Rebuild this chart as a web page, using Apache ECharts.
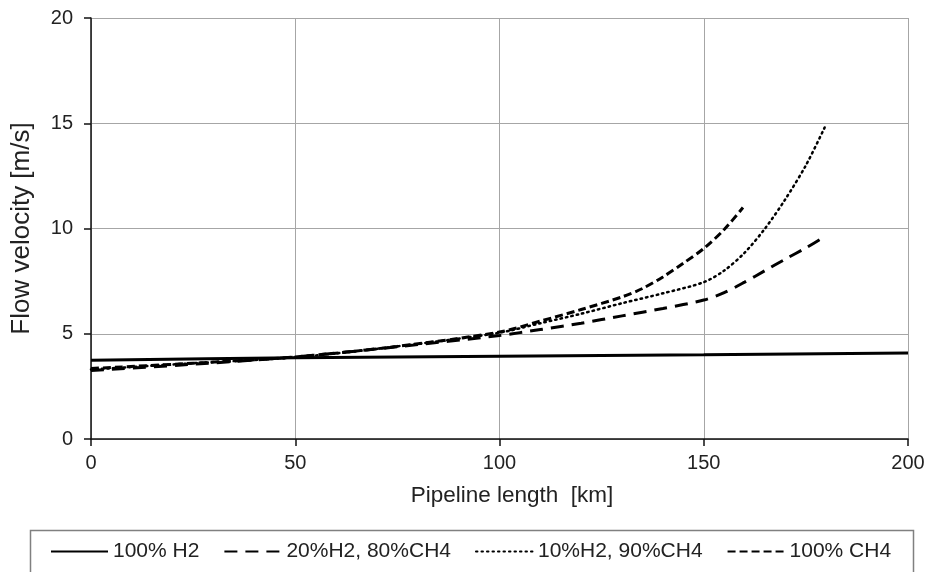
<!DOCTYPE html>
<html>
<head>
<meta charset="utf-8">
<script src="https://cdn.jsdelivr.net/npm/echarts@6/dist/echarts.min.js"></script>
<style>html,body{margin:0;padding:0;background:#fff}#c{width:928px;height:572px}</style>
</head>
<body>
<div id="c"></div>
<script>
const seriesNames = ['100% H2', '20%H2, 80%CH4', '10%H2, 90%CH4', '100% CH4'];
const xTitle = 'Pipeline length  [km]';
const yTitle = 'Flow velocity [m/s]';

const h2X = [0, 50, 100, 150, 200];
const h2Y = [3.74, 3.86, 3.93, 4.0, 4.08];

const mix20X = [0, 25, 50, 75, 100, 110, 120, 130, 140, 150, 155, 160, 165, 170, 175, 179.5];
const mix20Y = [3.25, 3.55, 3.9, 4.38, 4.92, 5.2, 5.5, 5.85, 6.2, 6.6, 6.95, 7.45, 8.0, 8.55, 9.08, 9.6];

const mix10X = [0, 25, 50, 75, 100, 110, 120, 130, 140, 150, 155, 160, 165, 170, 175, 179.6];
const mix10Y = [3.3, 3.6, 3.88, 4.4, 5.05, 5.5, 5.95, 6.45, 6.92, 7.45, 8.0, 8.85, 10.0, 11.4, 13.0, 14.8];

const ch4X = [0, 25, 50, 75, 100, 110, 120, 130, 135, 140, 145, 150, 155, 159.6];
const ch4Y = [3.35, 3.6, 3.9, 4.4, 5.08, 5.6, 6.15, 6.75, 7.15, 7.7, 8.35, 9.05, 9.95, 11.0];

const pairs = (xs, ys) => xs.map((x, i) => [x, ys[i]]);

const font = 'Liberation Sans, Arial, sans-serif';
const chart = echarts.init(document.getElementById('c'), null, {renderer: 'canvas'});
const lineBase = {type: 'line', smooth: 0.3, showSymbol: false, symbol: 'none', animation: false};
chart.setOption({
  animation: false,
  grid: {left: 91, right: 20, top: 18, bottom: 133, containLabel: false},
  xAxis: {
    type: 'value', min: 0, max: 200, interval: 50,
    name: xTitle, nameLocation: 'middle', nameGap: 45,
    nameTextStyle: {fontFamily: font, fontSize: 22.5, color: '#222', padding: [0, 0, 0, 25]},
    axisLine: {show: true, lineStyle: {color: '#111', width: 1.5}},
    axisTick: {show: true, inside: false, length: 7, lineStyle: {color: '#111', width: 1.5}},
    axisLabel: {fontFamily: font, fontSize: 20, color: '#222', margin: 14},
    splitLine: {show: true, lineStyle: {color: '#a6a6a6', width: 1}}
  },
  yAxis: {
    type: 'value', min: 0, max: 20, interval: 5,
    name: yTitle, nameLocation: 'middle', nameGap: 56,
    nameTextStyle: {fontFamily: font, fontSize: 26, color: '#222'},
    axisLine: {show: true, lineStyle: {color: '#111', width: 1.5}},
    axisTick: {show: true, inside: false, length: 7, lineStyle: {color: '#111', width: 1.5}},
    axisLabel: {fontFamily: font, fontSize: 20, color: '#222', margin: 18},
    splitLine: {show: true, lineStyle: {color: '#a6a6a6', width: 1}}
  },
  legend: {
    data: seriesNames, left: 50, top: 541, padding: 0,
    itemWidth: 57, itemHeight: 22, itemGap: 24,
    itemStyle: {opacity: 0},
    textStyle: {fontFamily: font, fontSize: 21, color: '#222'}
  },
  graphic: [{
    type: 'rect', left: 28, top: 528, silent: true,
    shape: {width: 883, height: 60},
    style: {fill: 'none', stroke: '#808080', lineWidth: 1.5}
  }],
  series: [
    Object.assign({}, lineBase, {name: seriesNames[0], data: pairs(h2X, h2Y),
      lineStyle: {color: '#000', width: 3, type: 'solid'}, itemStyle: {color: '#000'}}),
    Object.assign({}, lineBase, {name: seriesNames[1], data: pairs(mix20X, mix20Y),
      lineStyle: {color: '#000', width: 3, type: [13, 8]}, itemStyle: {color: '#000'}}),
    Object.assign({}, lineBase, {name: seriesNames[2], data: pairs(mix10X, mix10Y),
      lineStyle: {color: '#000', width: 2.5, type: [1.5, 4], cap: 'round'}, itemStyle: {color: '#000'}}),
    Object.assign({}, lineBase, {name: seriesNames[3], data: pairs(ch4X, ch4Y),
      lineStyle: {color: '#000', width: 3, type: [8, 4]}, itemStyle: {color: '#000'}})
  ]
});
</script>
</body>
</html>
